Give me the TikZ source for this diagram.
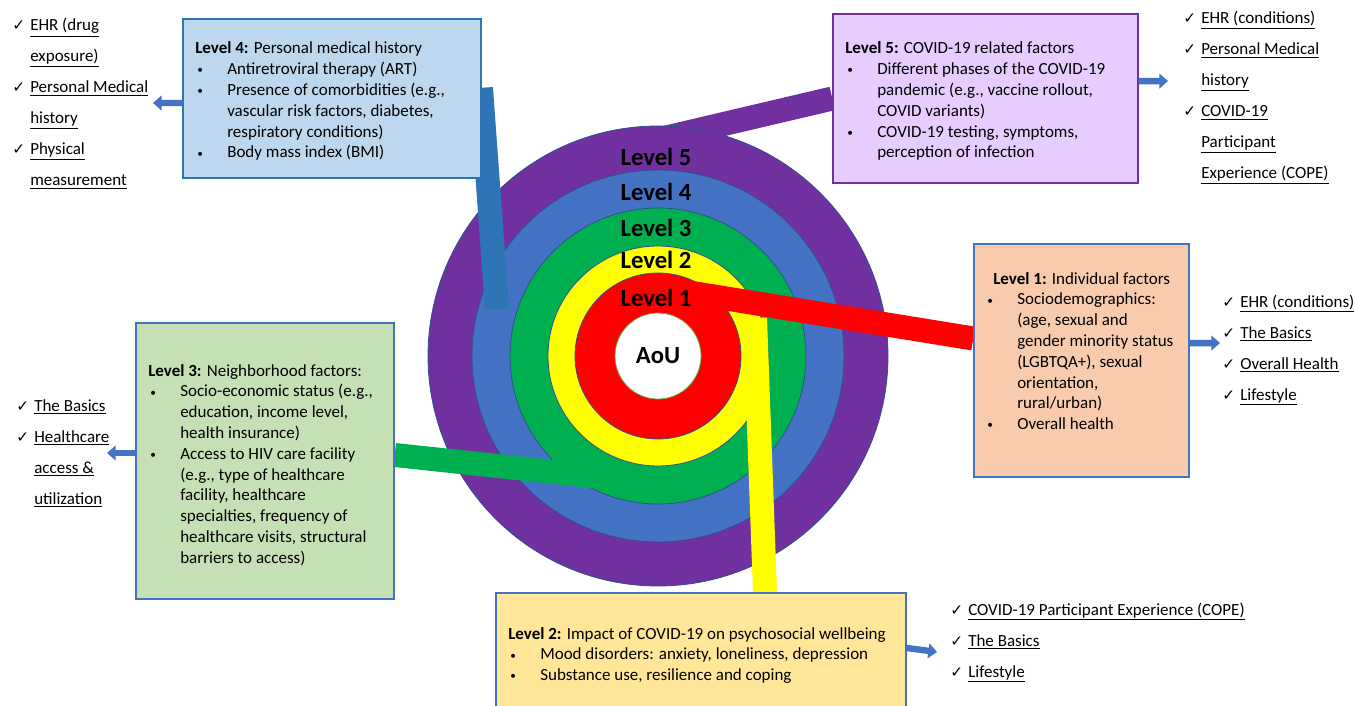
\documentclass[tikz,border=0pt]{standalone}
\usepackage{fontspec}
\setmainfont{Carlito}
\newfontfamily\chkfont{DejaVu Sans}
\usepackage{tikz}
\usetikzlibrary{fit,backgrounds,arrows.meta}

\definecolor{lvpurple}{HTML}{7030A0}
\definecolor{lvblue}{HTML}{4472C4}
\definecolor{lvdkblue}{HTML}{2E75B6}
\definecolor{lvgreen}{HTML}{00B050}
\definecolor{lvyellow}{HTML}{FFFF00}
\definecolor{lvred}{HTML}{FF0000}
\definecolor{ringline}{HTML}{2F528F}
\definecolor{aouline}{HTML}{70AD47}
\definecolor{fillfour}{HTML}{BDD7EE}
\definecolor{fillfive}{HTML}{E6CCFF}
\definecolor{fillone}{HTML}{F8CBAD}
\definecolor{fillthree}{HTML}{C5E0B4}
\definecolor{filltwo}{HTML}{FFE699}

\newcommand{\bul}{\makebox[24pt][l]{\hspace{1.5pt}\raisebox{0.6pt}{\fontsize{8.5}{8.5}\selectfont\textbullet}}}
\newcommand{\ind}{\hspace*{24pt}}
\newcommand{\chk}[1]{\makebox[13.5pt][l]{\chkfont\fontsize{11.5}{11.5}\selectfont ✓}\underline{#1}}
\newcommand{\cnt}[1]{\hspace*{13.5pt}\underline{#1}}

\tikzset{
  ring/.style={circle, draw=ringline, line width=0.6pt, inner sep=0pt},
  band/.style={line width=18pt},
  lvbox/.style={draw=lvblue, line width=1.1pt, inner sep=0pt},
  boxtext/.style={anchor=base west, inner sep=0pt, font=\fontsize{12.75}{15.6}\selectfont},
  chklist/.style={anchor=base west, inner sep=0pt, font=\fontsize{12.75}{23.25}\selectfont},
  lvlabel/.style={inner sep=0pt, font=\fontsize{18.5}{20}\selectfont\bfseries},
  blockarrow/.style={draw=lvblue, line width=4.8pt, -{Triangle[length=6.5pt,width=11pt]}},
}

\begin{document}
\begin{tikzpicture}[x=0.75pt,y=-0.75pt]
\useasboundingbox (0,0) rectangle (1355,706);

\node[lvbox, fill=fillfour, draw=lvdkblue, fit={(183,19) (481,178)}] (lvfour) {};
\node[lvbox, fill=fillfive, draw=lvpurple, fit={(833,14) (1138,183)}] (lvfive) {};
\node[lvbox, fill=fillone, fit={(974,244) (1189,477)}] (lvone) {};
\node[lvbox, fill=fillthree, fit={(136,323) (394,599)}] (lvthree) {};
\node[lvbox, fill=filltwo, fit={(496,593) (906,712)}] (lvtwo) {};

\node[boxtext] (txfour) at (195,54) {\parbox[t]{300pt}{\textbf{Level 4:} Personal medical history\\
\bul Antiretroviral therapy (ART)\\
\bul Presence of comorbidities (e.g.,\\
\ind vascular risk factors, diabetes,\\
\ind respiratory conditions)\\
\bul Body mass index (BMI)}};
\node[boxtext] (txfive) at (845,54) {\parbox[t]{300pt}{\textbf{Level 5:} COVID-19 related factors\\
\bul Different phases of the COVID-19\\
\ind pandemic (e.g., vaccine rollout,\\
\ind COVID variants)\\
\bul COVID-19 testing, symptoms,\\
\ind perception of infection}};
\node[boxtext] (txone) at (985,284) {\parbox[t]{300pt}{\hspace*{6pt}\textbf{Level 1:} Individual factors\\
\bul Sociodemographics:\\
\ind (age, sexual and\\
\ind gender minority status\\
\ind (LGBTQA+), sexual\\
\ind orientation,\\
\ind rural/urban)\\
\bul Overall health}};
\node[boxtext] (txthree) at (148,376) {\parbox[t]{300pt}{\textbf{Level 3:} Neighborhood factors:\\
\bul Socio-economic status (e.g.,\\
\ind education, income level,\\
\ind health insurance)\\
\bul Access to HIV care facility\\
\ind (e.g., type of healthcare\\
\ind facility, healthcare\\
\ind specialties, frequency of\\
\ind healthcare visits, structural\\
\ind barriers to access)}};
\node[boxtext] (txtwo) at (508,639) {\parbox[t]{360pt}{\textbf{Level 2:} Impact of COVID-19 on psychosocial wellbeing\\
\bul Mood disorders: anxiety, loneliness, depression\\
\bul Substance use, resilience and coping}};

\begin{scope}[on background layer]
\coordinate (ctr) at (658,356);
\coordinate (bfive) at (660,139);
\coordinate (bfour) at (497,309);
\coordinate (bone) at (680,291);
\coordinate (bthree) at (592,476);
\coordinate (btwo) at (755,318);
\draw[band, lvpurple] (lvfive.west) -- (bfive);
\node[ring, fill=lvpurple, minimum size=345pt] (ringfive) at (ctr) {};
\node[ring, fill=lvblue, minimum size=279pt] (ringfour) at (ctr) {};
\node[ring, fill=lvgreen, minimum size=222pt] (ringthree) at (ctr) {};
\node[ring, fill=lvyellow, minimum size=165pt] (ringtwo) at (ctr) {};
\node[ring, fill=lvred, minimum size=124.5pt] (ringone) at (ctr) {};
\node[ring, fill=white, draw=aouline, minimum size=64.5pt, font=\fontsize{18.5}{20}\selectfont\bfseries] (aou) at (ctr) {AoU};
\draw[band, lvdkblue, shorten <=-8pt] (lvfour.east) -- (bfour);
\draw[band, lvyellow] ([xshift=48pt]lvtwo.north) -- (btwo);
\draw[band, lvred] ([yshift=16.5pt]lvone.west) -- (bone);
\draw[band, lvgreen] ([yshift=4.5pt]lvthree.east) -- (bthree);
\end{scope}

\node[lvlabel] (lbfive) at (656,157) {Level 5};
\node[lvlabel] (lbfour) at (656,192) {Level 4};
\node[lvlabel] (lbthree) at (656,228) {Level 3};
\node[lvlabel] (lbtwo) at (656,260) {Level 2};
\node[lvlabel] (lbone) at (656,298) {Level 1};

\node[chklist] (lsfour) at (12,31) {\parbox[t]{150pt}{\chk{EHR (drug}\\ \cnt{exposure)}\\ \chk{Personal Medical}\\ \cnt{history}\\ \chk{Physical}\\ \cnt{measurement}}};
\node[chklist] (lsfive) at (1183,24) {\parbox[t]{150pt}{\chk{EHR (conditions)}\\ \chk{Personal Medical}\\ \cnt{history}\\ \chk{COVID-19}\\ \cnt{Participant}\\ \cnt{Experience (COPE)}}};
\node[chklist] (lsone) at (1222,307) {\parbox[t]{150pt}{\chk{EHR (conditions)}\\ \chk{The Basics}\\ \chk{Overall Health}\\ \chk{Lifestyle}}};
\node[chklist] (lsthree) at (16,411) {\parbox[t]{150pt}{\chk{The Basics}\\ \chk{Healthcare}\\ \cnt{access \&}\\ \cnt{utilization}}};
\node[chklist] (lstwo) at (950,615) {\parbox[t]{300pt}{\chk{COVID-19 Participant Experience (COPE)}\\ \chk{The Basics}\\ \chk{Lifestyle}}};

\coordinate (afour) at (153,103);
\coordinate (afive) at (1168,81);
\coordinate (aone) at (1220,343);
\coordinate (athree) at (107,453);
\coordinate (atwo) at (937,652);
\draw[blockarrow] ([yshift=-3.4pt]lvfour.west) -- (afour);
\draw[blockarrow] ([yshift=13pt]lvfive.east) -- (afive);
\draw[blockarrow] ([yshift=13pt]lvone.east) -- (aone);
\draw[blockarrow] ([yshift=6pt]lvthree.west) -- (athree);
\draw[blockarrow] ([yshift=3.4pt]lvtwo.east) -- (atwo);
\end{tikzpicture}
\end{document}
